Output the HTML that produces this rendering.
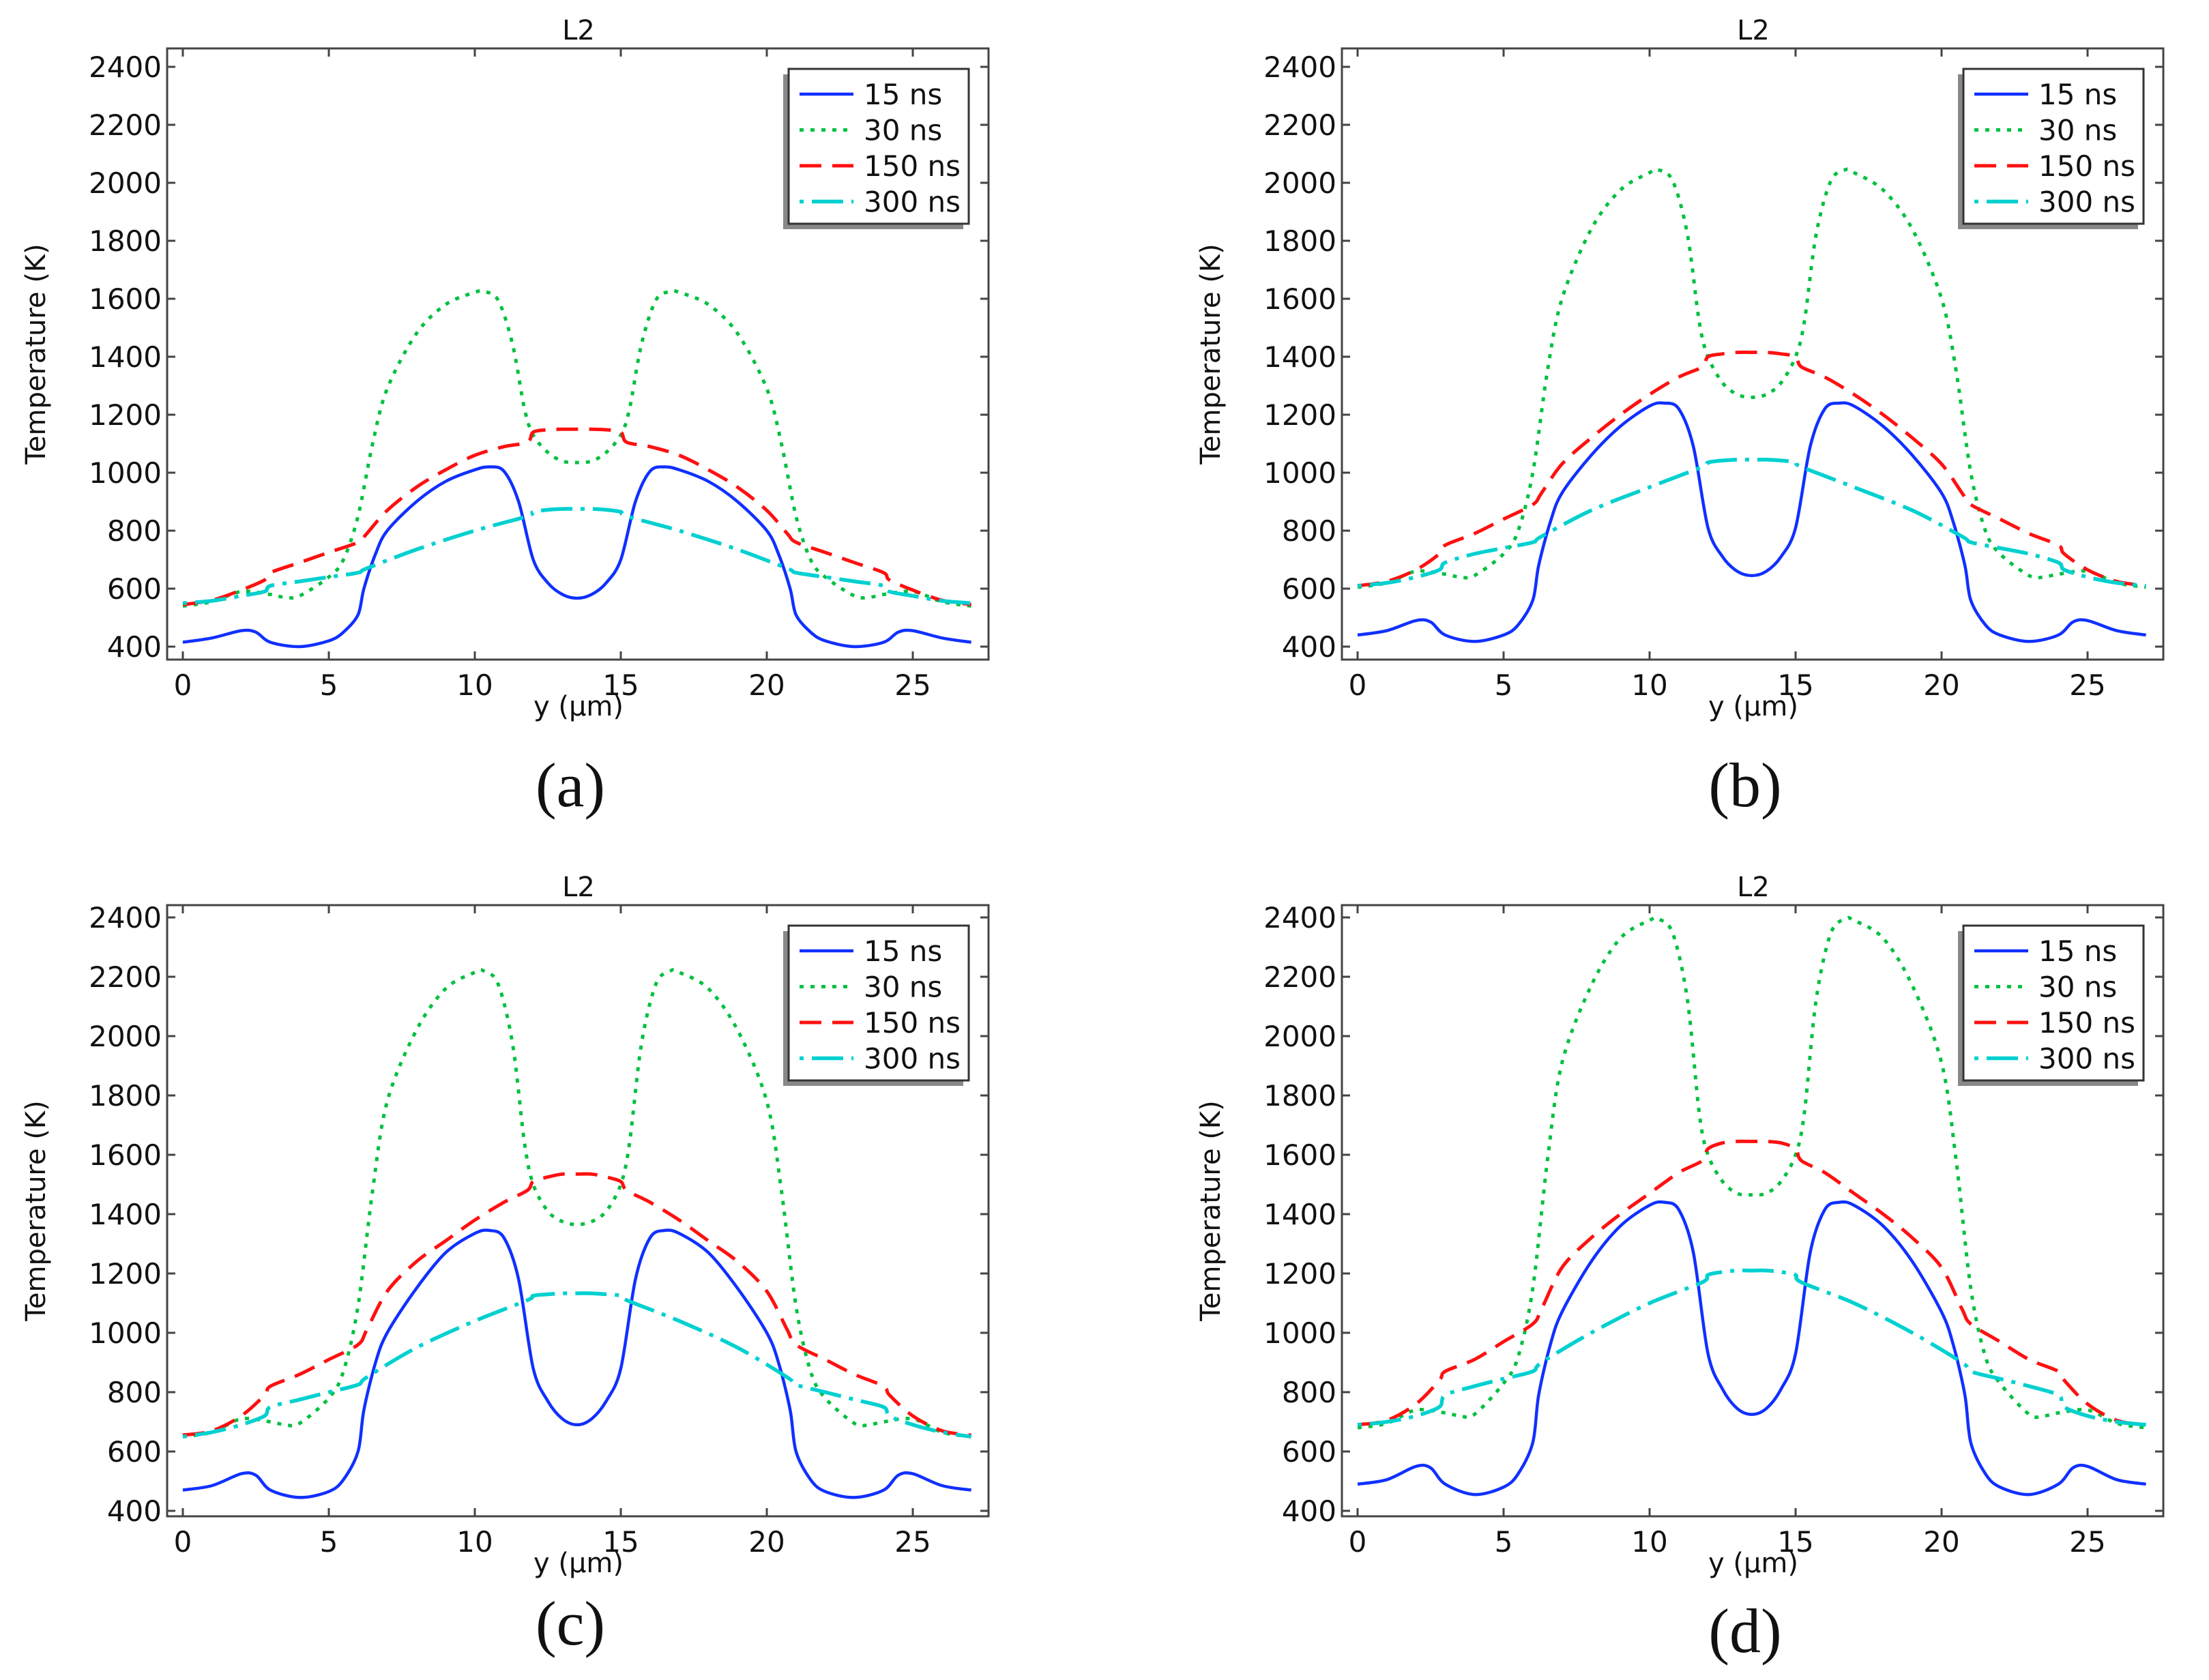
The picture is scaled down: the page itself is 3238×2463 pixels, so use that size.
<!DOCTYPE html>
<html><head><meta charset="utf-8">
<style>
html,body{margin:0;padding:0;background:#fff;}
svg{display:block;}
</style></head>
<body>
<svg id="fig" xmlns="http://www.w3.org/2000/svg" width="3238" height="2463" viewBox="0 0 3238 2463">
<rect width="3238" height="2463" fill="#fff"/>
</svg>
<script>
// ---- data ----
const xTicks = [0,5,10,15,20,25];
const yTicks = [400,600,800,1000,1200,1400,1600,1800,2000,2200,2400];
const panelLetters = ['(a)','(b)','(c)','(d)'];
const seriesNames = ['15 ns','30 ns','150 ns','300 ns'];

const x15 = [0,1,2,2.5,3,4,5,5.5,6,6.2,6.6,7,8,9,10,10.5,11,11.5,12,12.5,13,13.5,14,14.5,15,15.5,16,16.5,17,18,19,20,20.4,20.8,21,21.5,22,23,24,24.5,25,26,27];
const x30 = [0,1,2,3,3.5,4,5,5.5,6,6.5,7,8,9,10,10.3,10.8,11.3,11.7,12,12.5,13,13.5,14,14.5,15,15.3,15.7,16.2,16.7,17,18,19,20,20.5,21,21.5,22,23,23.5,24,25,26,27];
const x150 = [0,1,2,2.8,3,4,5,6,6.3,7,8,9,10,11,11.8,12,12.5,13,13.5,14,14.5,15,15.2,16,17,18,19,20,20.7,21,22,23,24,24.2,25,26,27];
const x300 = [0,1,2,2.8,3,4,5,6,6.3,8,10,11.8,12,12.5,13,13.5,14,14.5,15,15.2,17,19,20.7,21,22,23,24,24.2,25,26,27];

const a15 = [415,430,455,450,415,400,420,450,510,600,720,800,900,970,1010,1020,1005,900,700,620,580,567,580,620,700,900,1005,1020,1010,970,900,800,720,600,510,450,420,400,415,450,455,430,415];
const b15 = [440,455,490,485,440,418,440,475,560,680,830,930,1060,1160,1230,1240,1220,1090,810,710,660,645,660,710,810,1090,1220,1240,1230,1160,1060,930,830,680,560,475,440,418,440,485,490,455,440];
const c15 = [470,485,525,520,470,445,465,505,600,740,900,1000,1150,1270,1335,1345,1320,1180,880,770,710,690,710,770,880,1180,1320,1345,1335,1270,1150,1000,900,740,600,505,465,445,470,520,525,485,470];
const d15 = [490,505,550,545,490,455,480,525,630,790,960,1070,1240,1360,1430,1440,1415,1270,930,810,745,725,745,810,930,1270,1415,1440,1430,1360,1240,1070,960,790,630,525,480,455,490,545,550,505,490];

const a30 = [540,555,590,580,570,575,640,700,850,1100,1290,1480,1580,1622,1625,1595,1440,1220,1130,1070,1040,1035,1040,1070,1130,1220,1440,1595,1625,1622,1580,1480,1290,1100,850,700,640,575,570,580,590,555,540];
const b30 = [605,620,660,650,640,645,720,800,1000,1350,1600,1840,1975,2035,2045,2005,1820,1520,1400,1310,1270,1260,1270,1310,1400,1520,1820,2005,2045,2035,1975,1840,1600,1350,1000,800,720,645,640,650,660,620,605];
const c30 = [650,665,710,700,690,695,780,870,1090,1480,1780,2020,2160,2215,2220,2175,1970,1640,1500,1410,1375,1365,1375,1410,1500,1640,1970,2175,2220,2215,2160,2020,1780,1480,1090,870,780,695,690,700,710,665,650];
const d30 = [680,695,740,730,720,725,830,920,1150,1580,1910,2170,2330,2390,2395,2345,2120,1740,1600,1510,1470,1465,1470,1510,1600,1740,2120,2345,2395,2390,2330,2170,1910,1580,1150,920,830,725,720,730,740,695,680];

const a150 = [545,560,595,630,655,690,725,760,790,870,950,1010,1060,1090,1105,1140,1148,1150,1150,1150,1148,1140,1105,1090,1060,1010,950,870,790,760,725,690,655,630,595,560,545];
const b150 = [610,625,665,720,750,790,840,890,930,1030,1120,1200,1270,1330,1365,1400,1410,1415,1415,1415,1410,1400,1365,1330,1270,1200,1120,1030,930,890,840,790,750,720,665,625,610];
const c150 = [655,670,720,790,820,860,910,960,1010,1140,1240,1310,1380,1440,1480,1510,1525,1535,1535,1535,1525,1510,1480,1440,1380,1310,1240,1140,1010,960,910,860,820,790,720,670,655];
const d150 = [690,705,760,840,870,910,970,1030,1080,1220,1320,1400,1470,1540,1580,1620,1640,1645,1645,1645,1640,1620,1580,1540,1470,1400,1320,1220,1080,1030,970,910,870,840,760,705,690];

const a300 = [550,558,575,590,610,625,640,655,670,735,800,850,865,872,875,875,875,872,865,850,800,735,670,655,640,625,610,590,575,558,550];
const b300 = [610,620,640,665,690,720,740,760,780,870,950,1020,1035,1042,1045,1045,1045,1042,1035,1020,950,870,780,760,740,720,690,665,640,620,610];
const c300 = [650,665,690,720,750,775,800,825,850,950,1040,1110,1125,1130,1133,1133,1133,1130,1125,1110,1040,950,850,825,800,775,750,720,690,665,650];
const d300 = [690,700,720,750,790,820,845,870,900,1000,1100,1170,1195,1205,1210,1210,1210,1205,1195,1170,1100,1000,900,870,845,820,790,750,720,700,690];

// ---- layout ----
const NS='http://www.w3.org/2000/svg';
const svg=document.getElementById('fig');
function mk(tag,attrs,parent){const e=document.createElementNS(NS,tag);for(const k in attrs)e.setAttribute(k,attrs[k]);(parent||svg).appendChild(e);return e;}

const panels=[
 {dx:0,top:71,bottom:967,y400:948,ky:0.425,ly:1150,s:[a15,a30,a150,a300]},
 {dx:1722,top:71,bottom:967,y400:948,ky:0.425,ly:1150,s:[b15,b30,b150,b300]},
 {dx:0,top:1327,bottom:2223,y400:2215,ky:0.435,ly:2379,s:[c15,c30,c150,c300]},
 {dx:1722,top:1327,bottom:2223,y400:2215,ky:0.435,ly:2390,s:[d15,d30,d150,d300]}
];
const xsets=[x15,x30,x150,x300];
const colors=['#1030ff','#00c040','#ff1010','#00d0d0'];
const dashes=['none','6 10','32 16','6 12 46 12'];
const widths=[4.5,5,5,5.5];
const FONT='"DejaVu Sans","Liberation Sans",sans-serif';

function smoothPath(pts){
  let d='M'+pts[0][0].toFixed(1)+','+pts[0][1].toFixed(1);
  for(let i=0;i<pts.length-1;i++){
    const p0=pts[Math.max(i-1,0)],p1=pts[i],p2=pts[i+1],p3=pts[Math.min(i+2,pts.length-1)];
    const t=0.16;
    const c1=[p1[0]+(p2[0]-p0[0])*t,p1[1]+(p2[1]-p0[1])*t];
    const c2=[p2[0]-(p3[0]-p1[0])*t,p2[1]-(p3[1]-p1[1])*t];
    d+=' C'+c1[0].toFixed(1)+','+c1[1].toFixed(1)+' '+c2[0].toFixed(1)+','+c2[1].toFixed(1)+' '+p2[0].toFixed(1)+','+p2[1].toFixed(1);
  }
  return d;
}

panels.forEach((p,pi)=>{
  const L=245+p.dx, R=1449+p.dx;
  const X=u=>268+p.dx+u*42.8;
  const Y=v=>p.y400-(v-400)*p.ky;
  const g=mk('g',{});
  
  

  const cid='clip'+pi;
  const cp=mk('clipPath',{id:cid},g);
  mk('rect',{x:L,y:p.top,width:R-L,height:p.bottom-p.top},cp);
  const cg=mk('g',{'clip-path':'url(#'+cid+')'},g);
  p.s.forEach((vals,si)=>{
    const pts=vals.map((v,i)=>[X(xsets[si][i]),Y(v)]);
    const path=mk('path',{d:smoothPath(pts),fill:'none',stroke:colors[si],'stroke-width':widths[si],'stroke-dasharray':dashes[si],'stroke-linejoin':'round'},cg);
    
    
  });

  const box=mk('rect',{x:L,y:p.top,width:R-L,height:p.bottom-p.top,fill:'none',stroke:'#444','stroke-width':3},g);
  
  

  xTicks.forEach(t=>{
    const x=X(t);
    mk('line',{x1:x,x2:x,y1:p.bottom,y2:p.bottom-12,stroke:'#444','stroke-width':3},g);
    mk('line',{x1:x,x2:x,y1:p.top,y2:p.top+12,stroke:'#444','stroke-width':3},g);
    const tx=mk('text',{x:x,y:p.bottom+52,'font-family':FONT,'font-size':42,'text-anchor':'middle',fill:'#111'},g);
    tx.textContent=t;
    
    
  });
  yTicks.forEach(t=>{
    const y=Y(t);
    if(y<p.top-2||y>p.bottom+2)return;
    mk('line',{x1:L,x2:L+12,y1:y,y2:y,stroke:'#444','stroke-width':3},g);
    mk('line',{x1:R,x2:R-12,y1:y,y2:y,stroke:'#444','stroke-width':3},g);
    const ty=mk('text',{x:L-8,y:y+15,'font-family':FONT,'font-size':42,'text-anchor':'end',fill:'#111'},g);
    ty.textContent=t;
    
    
  });

  const tt=mk('text',{x:848+p.dx,y:p.top-13,'font-family':FONT,'font-size':40,'text-anchor':'middle',fill:'#111'},g);
  tt.textContent='L2';
  
  
  const xl=mk('text',{x:848+p.dx,y:p.bottom+82,'font-family':FONT,'font-size':40,'text-anchor':'middle',fill:'#111'},g);
  xl.textContent='y (µm)';
  
  
  const cy=(p.top+p.bottom)/2;
  const yl=mk('text',{x:0,y:0,transform:'translate('+(66+p.dx)+','+cy+') rotate(-90)','font-family':FONT,'font-size':40,'text-anchor':'middle',fill:'#111'},g);
  yl.textContent='Temperature (K)';
  
  
  const pl=mk('text',{x:836+p.dx,y:p.ly+32,'font-family':'"Liberation Serif",serif','font-size':92,'text-anchor':'middle',fill:'#111'},g);
  pl.textContent=panelLetters[pi];
  
  

  const lx=1156+p.dx, ly=p.top+30;
  const lg=mk('g',{},g);
  
  
  mk('rect',{x:lx-8,y:ly+8,width:264,height:227,fill:'#888'},lg);
  mk('rect',{x:lx,y:ly,width:264,height:227,fill:'#fff',stroke:'#333','stroke-width':3},lg);
  seriesNames.forEach((n,si)=>{
    const ry=ly+37+si*52.5;
    const e=mk('g',{},lg);
    
    
    mk('line',{x1:lx+16,x2:lx+95,y1:ry,y2:ry,stroke:colors[si],'stroke-width':widths[si],'stroke-dasharray':dashes[si]},e);
    const t=mk('text',{x:lx+110,y:ry+15,'font-family':FONT,'font-size':42,fill:'#111'},e);
    t.textContent=n;
  });
});
</script>
</body></html>
